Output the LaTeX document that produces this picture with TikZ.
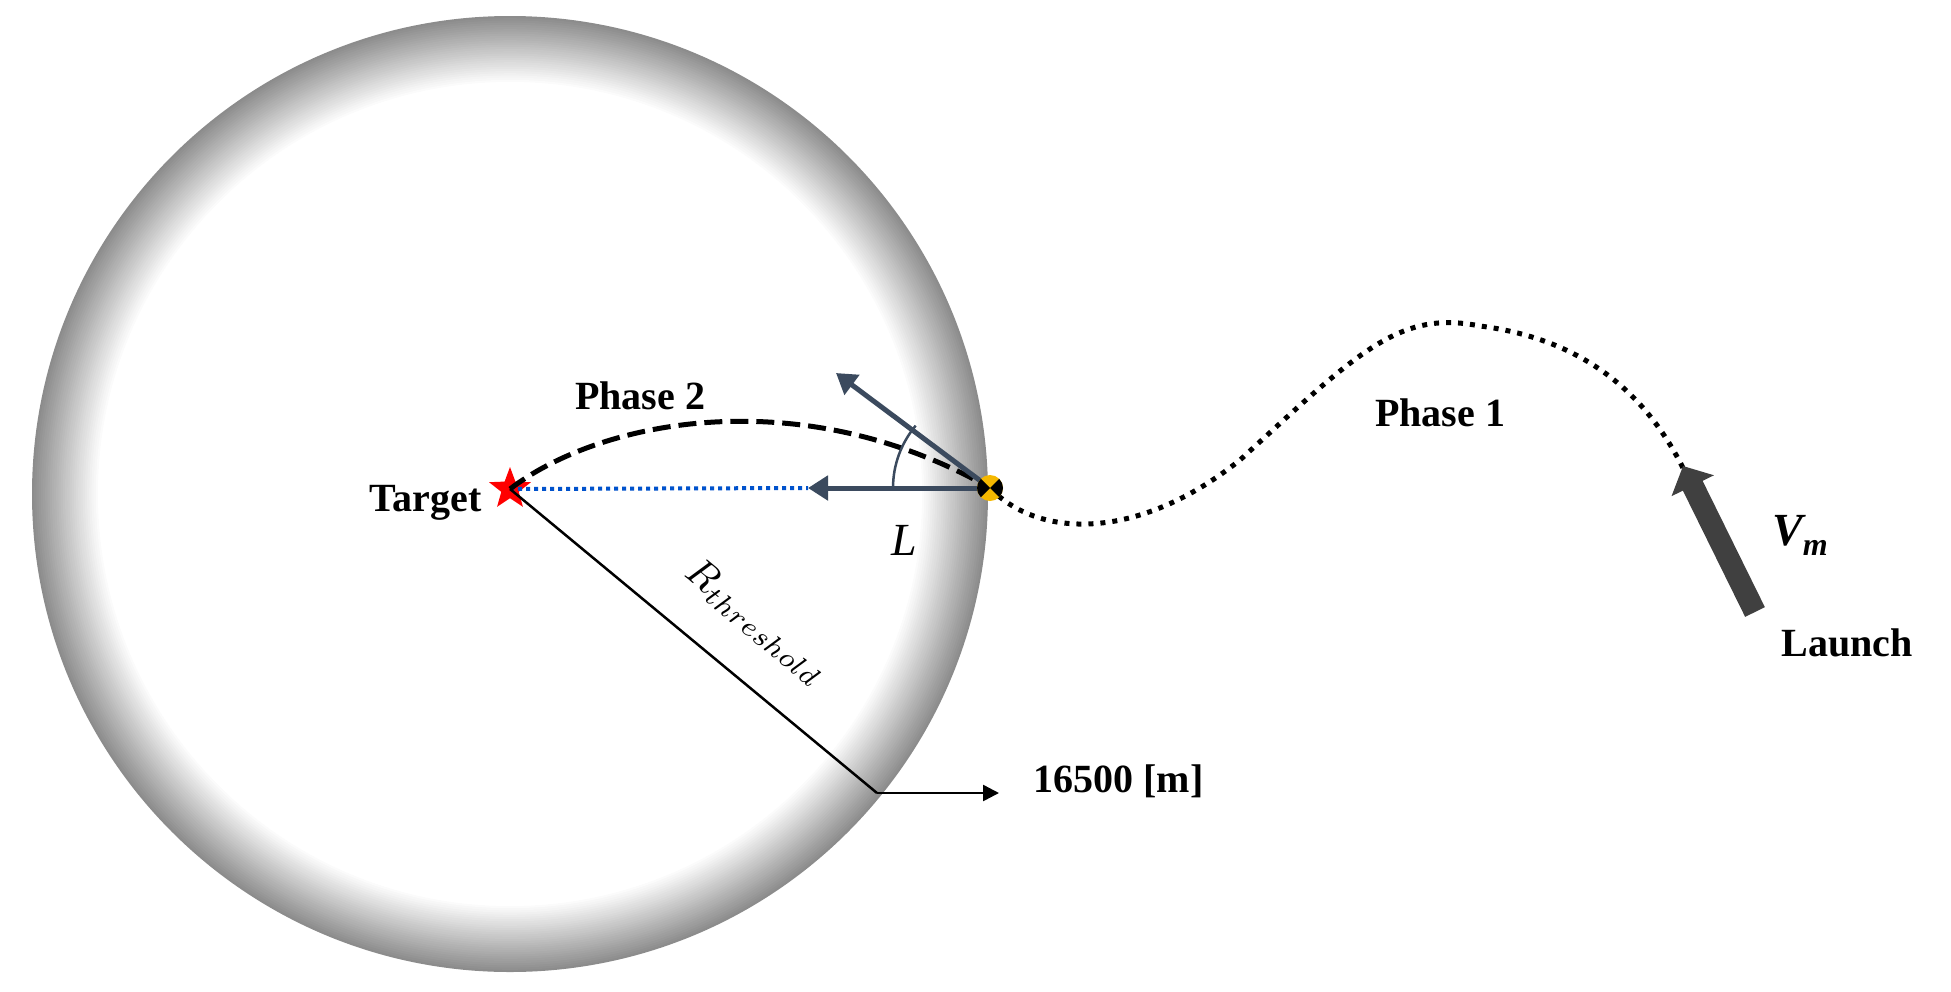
\documentclass[tikz,border=0pt]{standalone}
\usepackage{fontspec}
\setmainfont{Liberation Serif}
\usetikzlibrary{shapes.geometric,arrows.meta}
\definecolor{slate}{HTML}{3B4A5E}
\definecolor{mk}{HTML}{F5B800}
\tikzset{lbl/.style={font=\fontsize{40}{44}\selectfont\bfseries},
vec/.style={draw=slate,line width=5pt,-{Triangle[length=20pt,width=24pt]}}}
\begin{document}
\begin{tikzpicture}[x=1pt,y=-1pt]
\useasboundingbox (0,0) rectangle (1951,991);
% shaded circle
\foreach \i in {0,...,30}{
  \pgfmathsetmacro{\r}{478-\i*2.2}
  \pgfmathsetmacro{\p}{min(100,\i*100/30)}
  \fill[white!\p!black!45] (510,494) circle (\r);
}
\fill[white] (510,494) circle (412);
\node[star,star points=5,star point ratio=2.4,fill=red,minimum size=44pt,inner sep=0pt] (t) at (510,489) {};
\node[lbl,anchor=east] (tl) at (485,503) {Target};
\coordinate (m) at (990,488);
\coordinate (a1) at (808,488);
\coordinate (a2) at (836,373);
\draw[blue!60!cyan!80!black,line width=4pt,dash pattern=on 4pt off 4pt] (t.center) -- (a1);
\draw[line width=5pt,dash pattern=on 18pt off 8pt] (t.center) .. controls (600,420) and (800,380) .. (m);
\draw[vec] (m) -- (a1);
\draw[vec] (m) -- (a2);
\draw[slate,line width=2.5pt] (893,488) arc (180:220:97);
\node[font=\fontsize{46}{50}\selectfont\itshape] (L) at (904,540) {L};
\node[lbl] (p2) at (640,396) {Phase 2};
\draw[line width=5pt,dash pattern=on 5pt off 7pt] (m) .. controls (1040,540) and (1140,540) .. (1240,460) .. controls (1360,350) and (1400,310) .. (1480,326) .. controls (1590,340) and (1650,400) .. (1685,472);
\node[lbl] (p1) at (1440,413) {Phase 1};
\coordinate (vs) at (1755,612);
\coordinate (ve) at (1683,466);
\draw[black!75,line width=22pt,-{Triangle[length=22pt,width=46pt]}] (vs) -- (ve);
\node[font=\fontsize{46}{50}\selectfont\bfseries\itshape] (vm) at (1800,535) {V\raisebox{-10pt}{\fontsize{32}{34}\selectfont m}};
\node[lbl] (la) at (1847,643) {Launch};
\coordinate (rb) at (877,793);
\draw[line width=2.5pt] (t.center) -- (rb);
\draw[line width=2.5pt,-{Triangle[length=16pt,width=16pt]}] (rb) -- (999,793);
\node[lbl,anchor=west] (d) at (1030,781) {16500 [m]};
\node[rotate=-39.6,scale=4] (R) at (756,622) {$R_{threshold}$};
\fill[mk] (m) circle (13);
\fill[black] (m) -- ++(135:13) arc (135:225:13) -- cycle;
\fill[black] (m) -- ++(-45:13) arc (-45:45:13) -- cycle;
\end{tikzpicture}
\end{document}
